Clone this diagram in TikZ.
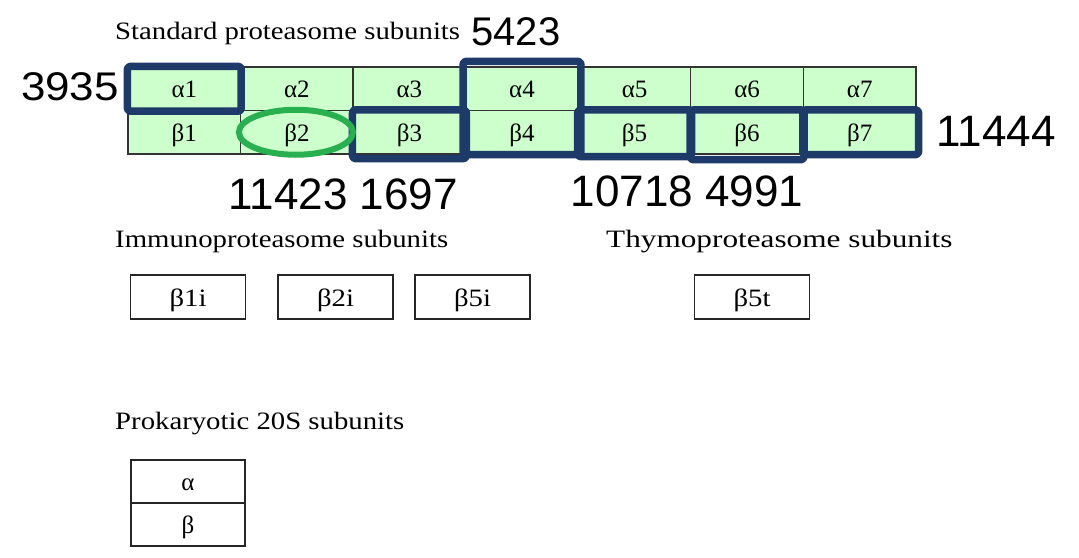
\documentclass[tikz,border=0pt]{standalone}
\usepackage{fontspec}
\setmainfont{Liberation Serif}
\newfontfamily\numfont{Liberation Sans}
\usepackage{graphicx}
\definecolor{cellgreen}{RGB}{204,255,204}
\definecolor{navy}{RGB}{30,58,105}
\definecolor{ringgreen}{RGB}{40,175,80}
\newcommand{\hstretch}[1]{\scalebox{1.15}[1]{#1}}
\begin{document}
\begin{tikzpicture}[x=1pt,y=-1pt,
  cell/.style={draw=black!80, line width=1.3pt, fill=cellgreen, minimum width=112.57pt,
    minimum height=43.5pt, inner sep=0pt, font=\fontsize{25}{30}\selectfont,
    text height=18pt, text depth=0pt},
  subbox/.style={draw=black!85, line width=1.6pt, fill=white, minimum width=115pt,
    minimum height=44pt, inner sep=0pt, font=\fontsize{25}{30}\selectfont,
    text height=18pt, text depth=0pt},
  prokbox/.style={subbox, minimum width=114pt, minimum height=43pt},
  heading/.style={anchor=base west, inner sep=0pt, font=\fontsize{25}{30}\selectfont},
  num/.style={inner sep=0pt, font=\numfont\fontsize{44}{50}\selectfont},
  bluebox/.style={draw=navy, line width=7.5pt, rounded corners=3pt, line join=round},
  ring/.style={draw=ringgreen, line width=6pt}]
\path[use as bounding box, fill=white] (0,0) rectangle (1079,557);

% standard proteasome grid
\node[cell] (a1) at (184.3,88.75) {α1};
\node[cell] (a2) at (296.9,88.75) {α2};
\node[cell] (a3) at (409.4,88.75) {α3};
\node[cell] (a4) at (522.0,88.75) {α4};
\node[cell] (a5) at (634.6,88.75) {α5};
\node[cell] (a6) at (747.1,88.75) {α6};
\node[cell] (a7) at (859.7,88.75) {α7};
\node[cell] (b1) at (184.3,132.25) {β1};
\node[cell] (b2) at (296.9,132.25) {β2};
\node[cell] (b3) at (409.4,132.25) {β3};
\node[cell] (b4) at (522.0,132.25) {β4};
\node[cell] (b5) at (634.6,132.25) {β5};
\node[cell] (b6) at (747.1,132.25) {β6};
\node[cell] (b7) at (859.7,132.25) {β7};

% highlights
\draw[bluebox] (a1.north west) rectangle (a1.south east);
\draw[bluebox] ([xshift=-2pt,yshift=5pt]a4.north west) rectangle ([xshift=2pt]b4.south east);
\draw[bluebox] (b3.north west) rectangle ([yshift=-4pt]b3.south east);
\draw[bluebox] (b5.north west) rectangle ([yshift=-2pt]b5.south east);
\draw[bluebox] (b6.north west) rectangle ([yshift=-5pt]b6.south east);
\draw[bluebox] (b7.north west) rectangle ([xshift=2pt]b7.south east);
\draw[ring] ([xshift=-1pt]b2.center) ellipse [x radius=57, y radius=22.5];

% labels
\node[heading] (std) at (115,39) {\hstretch{Standard proteasome subunits}};
\node[num, font=\numfont\fontsize{40}{46}\selectfont] (n5423) at (516,32) {5423};
\node[num, font=\numfont\fontsize{40}{46}\selectfont] (n3935) at (70,87) {\scalebox{1.1}[1]{3935}};
\node[num] (n11444) at (996,131) {11444};
\node[num] (n11423) at (343,194) {11423 1697};
\node[num] (n10718) at (687,191) {10718 4991};

\node[heading] (immuno) at (115,247) {\hstretch{Immunoproteasome subunits}};
\node[heading] (thymo) at (606,247) {\scalebox{1.25}[1]{Thymoproteasome subunits}};
\node[subbox] (i1) at (188,297) {\hstretch{β1i}};
\node[subbox] (i2) at (335.5,297) {\hstretch{β2i}};
\node[subbox] (i5) at (472.5,297) {\hstretch{β5i}};
\node[subbox] (t5) at (752,297) {\hstretch{β5t}};

\node[heading] (prok) at (115,429) {\hstretch{Prokaryotic 20S subunits}};
\node[prokbox] (pa) at (188,481.5) {α};
\node[prokbox] (pb) at (188,524.5) {β};
\end{tikzpicture}
\end{document}
